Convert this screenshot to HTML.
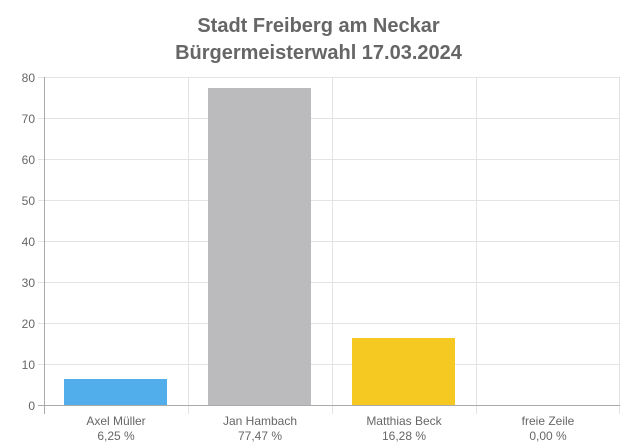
<!DOCTYPE html>
<html><head><meta charset="utf-8"><style>
html,body{margin:0;padding:0;background:#fff;}
svg{display:block;font-family:"Liberation Sans",Arial,sans-serif;}
</style></head><body>
<svg width="637" height="448" viewBox="0 0 637 448">
<rect width="637" height="448" fill="#fff"/>
<text x="318.5" y="32" text-anchor="middle" font-size="20" font-weight="bold" fill="#666">Stadt Freiberg am Neckar</text>
<text x="318.5" y="59" text-anchor="middle" font-size="20" font-weight="bold" fill="#666">Bürgermeisterwahl 17.03.2024</text>
<g stroke="#e3e3e3" stroke-width="1">
<line x1="44" x2="620" y1="77.5" y2="77.5"/>
<line x1="44" x2="620" y1="118.5" y2="118.5"/>
<line x1="44" x2="620" y1="159.5" y2="159.5"/>
<line x1="44" x2="620" y1="200.5" y2="200.5"/>
<line x1="44" x2="620" y1="241.5" y2="241.5"/>
<line x1="44" x2="620" y1="282.5" y2="282.5"/>
<line x1="44" x2="620" y1="323.5" y2="323.5"/>
<line x1="44" x2="620" y1="364.5" y2="364.5"/>
<line x1="188.5" x2="188.5" y1="77" y2="414"/>
<line x1="332.5" x2="332.5" y1="77" y2="414"/>
<line x1="476.5" x2="476.5" y1="77" y2="414"/>
<line x1="619.5" x2="619.5" y1="77" y2="414"/>
</g>
<g stroke="#e3e3e3"><line x1="38" x2="44" y1="77.5" y2="77.5"/><line x1="38" x2="44" y1="118.5" y2="118.5"/><line x1="38" x2="44" y1="159.5" y2="159.5"/><line x1="38" x2="44" y1="200.5" y2="200.5"/><line x1="38" x2="44" y1="241.5" y2="241.5"/><line x1="38" x2="44" y1="282.5" y2="282.5"/><line x1="38" x2="44" y1="323.5" y2="323.5"/><line x1="38" x2="44" y1="364.5" y2="364.5"/></g>
<rect x="64" y="379" width="103" height="26" fill="#52aeea"/>
<rect x="208" y="88" width="103" height="317" fill="#bbbbbd"/>
<rect x="352" y="338" width="103" height="67" fill="#f5c922"/>
<line x1="44.5" x2="44.5" y1="77" y2="414" stroke="#aaa"/>
<line x1="38" x2="620" y1="405.5" y2="405.5" stroke="#aaa"/>
<g font-size="12" fill="#666" text-anchor="end">
<text x="35" y="82">80</text><text x="35" y="123">70</text><text x="35" y="164">60</text><text x="35" y="205">50</text>
<text x="35" y="246">40</text><text x="35" y="287">30</text><text x="35" y="328">20</text><text x="35" y="369">10</text><text x="35" y="410">0</text>
</g>
<g font-size="12" fill="#666" text-anchor="middle">
<text x="116" y="425">Axel Müller</text><text x="116" y="440">6,25 %</text>
<text x="260" y="425">Jan Hambach</text><text x="260" y="440">77,47 %</text>
<text x="404" y="425">Matthias Beck</text><text x="404" y="440">16,28 %</text>
<text x="548" y="425">freie Zeile</text><text x="548" y="440">0,00 %</text>
</g>
</svg>
</body></html>
